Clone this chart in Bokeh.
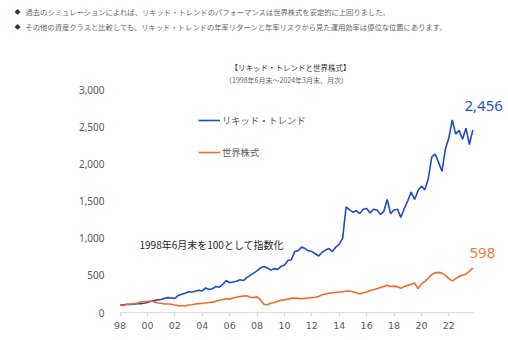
from bokeh.plotting import figure
from bokeh.models import Range1d, FixedTicker, Label, Legend, LegendItem
from bokeh.embed import file_html
from bokeh.resources import INLINE

# ---- data (quarterly readings, index 1998-06 = 100) ----
start_year = 1998.5   # June 1998
step = 0.25
liquid_trend = [
    100, 105, 110, 108,
    112, 118, 120, 125,
    135, 150, 160, 170,
    175, 190, 200, 195,
    190, 230, 245, 260,
    280, 275, 285, 300,
    290, 330, 310, 320,
    350, 340, 380, 430,
    400, 410, 420, 440,
    430, 470, 500, 530,
    560, 600, 620, 600,
    570, 590, 580, 620,
    640, 700, 710, 820,
    830, 880, 860, 830,
    820, 790, 760, 810,
    840, 860, 820, 880,
    920, 1000, 1420, 1380,
    1350, 1370, 1330, 1390,
    1400, 1340, 1390, 1380,
    1320, 1360, 1520, 1330,
    1380, 1390, 1280, 1400,
    1500, 1620, 1520, 1640,
    1700, 1650, 1800, 2090,
    2130, 2020, 1900, 2200,
    2350, 2590, 2400, 2450,
    2330, 2480, 2260, 2456,
]
world_equity = [
    100, 92, 110, 115,
    120, 125, 140, 145,
    150, 155, 140, 130,
    125, 115, 115, 112,
    100, 92, 90, 88,
    100, 105, 115, 120,
    125, 128, 135, 140,
    150, 165, 175, 185,
    180, 195, 205, 215,
    220, 225, 205, 200,
    210, 170, 110, 105,
    125, 135, 150, 165,
    170, 180, 190, 195,
    190, 185, 190, 195,
    200, 205, 215, 240,
    250, 258, 265, 270,
    275, 280, 285, 290,
    280, 265, 250, 265,
    275, 295, 305, 320,
    335, 350, 365, 350,
    355, 345, 325, 350,
    365, 380, 398, 320,
    385, 420, 460, 510,
    535, 540, 530, 500,
    455, 425, 455, 485,
    505, 515, 555, 598,
]
x_years = [start_year + i * step for i in range(len(liquid_trend))]
tick_years = [1998.5 + 2 * k for k in range(13)]
tick_labels = ["98", "00", "02", "04", "06", "08", "10", "12", "14", "16", "18", "20", "22"]
y_ticks = [0, 500, 1000, 1500, 2000, 2500, 3000]
end_label_lt = "2,456"
end_label_we = "598"

BLUE = "#1F4BC6"
ORANGE = "#F26A2A"
GREY = "#595959"
JP = "Noto Sans CJK JP"

# plot-area placement on the 508x340 canvas (pixels)
W, H = 508, 340
FL, FR, FT, FB = 119, 473, 89, 312
X0, X1 = 1998.46, 2024.3
Y0, Y1 = 0, 3000
sx = (X1 - X0) / (FR - FL)
sy = (Y1 - Y0) / (FB - FT)
x_range = Range1d(X0 - FL * sx, X1 + (W - FR) * sx)
y_range = Range1d(Y0 - (H - FB) * sy, Y1 + FT * sy)

p = figure(width=W, height=H, x_range=x_range, y_range=y_range,
           min_border=0, output_backend="svg", toolbar_location=None)
p.outline_line_color = None
p.grid.visible = False
p.background_fill_color = "white"
p.border_fill_color = "white"

lt = p.line(x_years, liquid_trend, line_color=BLUE, line_width=1.6)
we = p.line(x_years, world_equity, line_color=ORANGE, line_width=1.6)

legend = Legend(items=[LegendItem(label="リキッド・トレンド", renderers=[lt]),
                       LegendItem(label="世界株式", renderers=[we])],
                location=(198, H - 162), orientation="vertical",
                glyph_width=22, glyph_height=20, label_height=20, spacing=12,
                padding=0, margin=0, label_standoff=2,
                label_text_font=JP, label_text_font_size="9.3px", label_text_color=GREY,
                border_line_alpha=0, background_fill_alpha=0)
p.add_layout(legend, "center")

# axes fixed inside the full-canvas frame
xa = p.xaxis[0]
xa.fixed_location = Y0
xa.bounds = (X0, X1)
xa.ticker = FixedTicker(ticks=tick_years)
xa.major_label_overrides = {t: l for t, l in zip(tick_years, tick_labels)}
xa.axis_line_color = "#D9D9D9"
xa.major_tick_line_color = "#D9D9D9"
xa.major_tick_out = 4
xa.major_tick_in = 0
xa.minor_tick_line_color = None
xa.major_label_text_font = "DejaVu Sans"
xa.major_label_text_font_size = "9.5px"
xa.major_label_text_color = GREY
xa.major_label_standoff = 5

ya = p.yaxis[0]
ya.fixed_location = X0
ya.bounds = (Y0, Y1)
ya.ticker = FixedTicker(ticks=y_ticks)
ya.major_label_overrides = {v: f"{v:,}" for v in y_ticks}
ya.axis_line_color = None
ya.major_tick_line_color = None
ya.minor_tick_line_color = None
ya.major_label_text_font = "Noto Sans"
ya.major_label_text_font_size = "10px"
ya.major_label_text_color = GREY
ya.major_label_standoff = 9

def lab(text, x, y, size, color, font=JP, align="left", style="normal"):
    # x, y in canvas pixels from the top-left
    p.add_layout(Label(text=text, x=x, y=H - y, x_units="screen", y_units="screen",
                       text_font=font, text_font_size=size, text_color=color,
                       text_align=align, text_baseline="middle", text_font_style=style))

# header bullets
lab("◆", 17, 11, "6px", "#333333", align="center")
lab("過去のシミュレーションによれば、リキッド・トレンドのパフォーマンスは世界株式を安定的に上回りました。",
    25, 11, "7.3px", "#666666")
lab("◆", 17, 26, "6px", "#333333", align="center")
lab("その他の資産クラスと比較しても、リキッド・トレンドの年率リターンと年率リスクから見た運用効率は優位な位置にあります。",
    25, 26, "7.3px", "#666666")

# chart title
lab("【リキッド・トレンドと世界株式】", 290, 67, "7.5px", "#333333", align="center")
lab("（1998年6月末～2024年3月末、月次）", 286, 79, "7px", "#666666", align="center")

# annotation
lab("1998年6月末を100として指数化", 139, 244, "10px", "#262626")

# end labels
lab(end_label_lt, 464, 105, "15px", "#2A52BE", font="Noto Sans")
lab(end_label_we, 469, 252, "15px", "#F07A45", font="Noto Sans")

open("out.html", "w").write(file_html(p, INLINE))
